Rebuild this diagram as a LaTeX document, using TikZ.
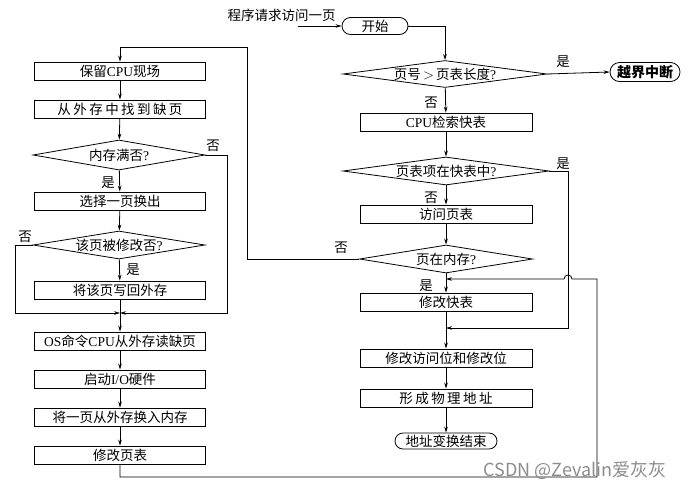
\documentclass[tikz,border=0pt]{standalone}
\usepackage{fontspec}
\setmainfont{Liberation Serif}
\newfontfamily\cjk{Noto Sans CJK SC}
\newfontfamily\cjkw[LetterSpace=18]{Noto Sans CJK SC}
\newcommand\zh[1]{{\cjk #1}}
\usetikzlibrary{shapes.geometric,shapes.misc,arrows.meta}
\begin{document}
\begin{tikzpicture}[x=1pt,y=-1pt,line width=0.8pt,
  txt/.style={font=\fontsize{13.5}{15}\selectfont},
  box/.style={draw,txt,minimum width=171pt,minimum height=18pt,inner sep=0pt},
  dec/.style={draw,diamond,inner sep=0pt,label={[txt]center:#1}},
  term/.style={draw,txt,rounded rectangle,inner xsep=2pt,inner ysep=0pt},
  lbl/.style={txt,inner sep=0pt},
  flow/.style={-{Stealth[length=6pt,width=3.6pt]}}]
\useasboundingbox (0,0) rectangle (692,493);

% ---------- left column ----------
\node[box] (bl1) at (120,71) {\zh{保留}CPU\zh{现场}};
\node[box] (bl2) at (120,109) {{\cjkw 从外存中找到缺页}};
\node[dec={\zh{内存满否}?},minimum width=172pt,minimum height=30pt] (dl1) at (119,155) {};
\node[box] (bl3) at (120,201) {\zh{选择一页换出}};
\node[dec={\zh{该页被修改否}?},minimum width=172pt,minimum height=28pt] (dl2) at (119,245) {};
\node[box] (bl4) at (120,290) {\zh{将该页写回外存}};
\coordinate (m) at (120,313);
\coordinate (ml) at (15,313);
\coordinate (mr) at (227,313);
\node[box] (bl5) at (120,341) {OS\zh{命令}CPU\zh{从外存读缺页}};
\node[box] (bl6) at (120,379) {\zh{启动}I/O\zh{硬件}};
\node[box] (bl7) at (120,417) {\zh{将一页从外存换入内存}};
\node[box] (bl8) at (120,455) {\zh{修改页表}};

% ---------- right column ----------
\node[lbl,anchor=east] (req) at (336,15) {\zh{程序请求访问一页}};
\coordinate (reqs) at (298,26);
\node[term,minimum width=70pt,minimum height=17pt] (start) at (375,26) {\zh{开始}};
\node[dec={\zh{页号}\,$>$\,\zh{页表长度}?},minimum width=204pt,minimum height=27pt] (d1) at (445,74) {};
\node[term,minimum width=74pt,minimum height=19pt,font=\fontsize{14}{16}\selectfont\bfseries] (stop) at (645,72) {\zh{越界中断}};
\node[box,minimum width=172pt] (br1) at (446,122) {CPU\zh{检索快表}};
\node[dec={\zh{页表项在快表中}?},minimum width=206pt,minimum height=28pt] (d2) at (446,171) {};
\node[box,minimum width=172pt] (br2) at (446,214) {\zh{访问页表}};
\node[dec={\zh{页在内存}?},minimum width=173pt,minimum height=28pt] (d3) at (446,259) {};
\node[box,minimum width=172pt] (br3) at (446,302) {\zh{修改快表}};
\node[box,minimum width=172pt] (br4) at (446,358) {\zh{修改访问位和修改位}};
\node[box,minimum width=172pt] (br5) at (446,398) {{\cjkw 形成物理地址}};
\node[term,minimum width=106pt,minimum height=16pt] (end) at (446,441) {\zh{地址变换结束}};
\coordinate (j1) at (446,279);
\coordinate (j2) at (446,328);
\coordinate (r1) at (568,328);
\coordinate (top) at (247,47);
\coordinate (b1) at (120,477);
\coordinate (b2) at (597,477);
\coordinate (b3) at (597,279);
\coordinate (hop) at (572,279);

% ---------- connectors, left ----------
\draw[flow] (bl1) -- (bl2);
\draw[flow] (bl2) -- (dl1);
\draw[flow] (dl1) -- (bl3);
\draw[flow] (bl3) -- (dl2);
\draw[flow] (dl2) -- (bl4);
\draw[flow] (bl4) -- (bl5);
\draw[flow] (dl1.east) -| (mr) -- (m);
\draw[flow] (dl2.west) -| (ml) -- (m);
\draw[flow] (bl5) -- (bl6);
\draw[flow] (bl6) -- (bl7);
\draw[flow] (bl7) -- (bl8);
\node[lbl] (n1) at (213,146) {\zh{否}};
\node[lbl] (y1) at (108,183) {\zh{是}};
\node[lbl] (n2) at (25,237) {\zh{否}};
\node[lbl] (y2) at (133,270) {\zh{是}};

% ---------- connectors, right ----------
\draw[flow] (reqs) -- (start.west);
\draw[flow] (start.east) -| (d1.north);
\draw[flow] (d1.east) -- (stop.west);
\draw[flow] (d1) -- (br1);
\draw[flow] (br1) -- (d2);
\draw[flow] (d2) -- (br2);
\draw[flow] (br2) -- (d3);
\draw[flow] (d3) -- (br3);
\draw[flow] (br3) -- (br4);
\draw[flow] (br4) -- (br5);
\draw[flow] (br5) -- (end);
\draw[flow] (d2.east) -| (r1) -- (j2);
\draw[flow] (d3.west) -| (top) -| (bl1.north);
\draw[flow] (bl8.south) -- (b1) -- (b2) -- (b3) -- (hop)
  arc[start angle=0,end angle=180,radius=4pt] -- (j1);
\node[lbl] (y3) at (563,62) {\zh{是}};
\node[lbl] (n3) at (431,103) {\zh{否}};
\node[lbl] (y4) at (563,164) {\zh{是}};
\node[lbl] (n4) at (431,198) {\zh{否}};
\node[lbl] (n5) at (341,248) {\zh{否}};
\node[lbl] (y5) at (426,286) {\zh{是}};

\node[lbl,text=black!45,anchor=west,font=\fontsize{18}{20}\selectfont] (wm) at (483,470) {\zh{CSDN @Zevalin爱灰灰}};
\end{tikzpicture}
\end{document}
